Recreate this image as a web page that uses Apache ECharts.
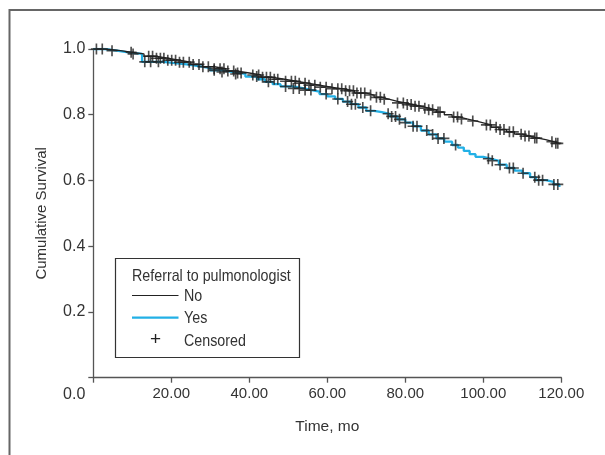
<!DOCTYPE html>
<html>
<head>
<meta charset="utf-8">
<script src="https://cdn.jsdelivr.net/npm/echarts@6/dist/echarts.min.js"></script>
<style>
html,body{margin:0;padding:0;background:#fff;}
#main{width:605px;height:455px;}
</style>
</head>
<body>
<div id="main"></div>
<script>
// Kaplan-Meier step data: [time (mo), cumulative survival]
var noCurve = [[0,1.0],[3,0.995],[7,0.99],[10,0.985],[13,0.978],[16,0.972],[19,0.966],[22,0.96],[25,0.953],[28,0.946],[31,0.94],[34,0.933],[37,0.927],[40,0.921],[43,0.914],[46,0.908],[49,0.902],[52,0.896],[55,0.89],[58,0.884],[61,0.879],[64,0.873],[67,0.866],[70,0.86],[72,0.853],[74,0.847],[76,0.841],[78,0.836],[80,0.831],[82,0.826],[84,0.82],[86,0.815],[88,0.808],[90,0.8],[92,0.793],[94,0.787],[96,0.781],[98,0.775],[100,0.769],[102,0.762],[104,0.755],[106,0.748],[108,0.741],[110,0.735],[112,0.729],[114,0.724],[116,0.718],[118,0.713],[119.5,0.71]];
var yesCurve = [[0,1.0],[3,0.995],[6,0.99],[9,0.985],[12.5,0.961],[18,0.957],[21,0.953],[24,0.948],[27,0.942],[30,0.935],[33,0.93],[36,0.924],[39,0.916],[42,0.908],[44,0.9],[46,0.893],[48,0.886],[51,0.88],[54,0.875],[56,0.87],[58,0.863],[60,0.856],[62,0.848],[64,0.84],[66,0.832],[68,0.822],[70,0.812],[72,0.808],[74,0.803],[76,0.795],[78,0.786],[80,0.776],[82,0.765],[84,0.752],[86,0.74],[88,0.728],[90,0.718],[92,0.708],[93.5,0.7],[95,0.69],[96.5,0.68],[98,0.672],[100,0.666],[102,0.66],[104,0.648],[106,0.638],[108,0.63],[110,0.622],[112,0.61],[113.5,0.601],[116,0.596],[118,0.588],[119.5,0.58]];
// censoring times (mo)
var noCensored = [0.8,2.3,4.8,9.7,10.2,14.2,15.2,16.2,17.2,18.1,19.1,20.1,21.1,22.1,23.1,24.6,25.6,27.1,28.1,29.5,31.0,32.5,33.5,34.5,36.0,37.0,37.9,40.9,42.4,43.4,44.4,45.4,46.4,47.3,49.3,50.8,51.8,52.8,54.3,55.3,56.8,58.2,59.7,61.2,62.7,63.7,64.7,65.7,66.7,67.6,68.6,69.6,71.1,72.6,73.6,74.6,78.0,79.5,80.5,81.5,82.5,83.5,85.0,86.0,87.0,88.4,88.9,92.4,93.4,94.4,97.3,100.8,101.8,103.3,104.3,105.3,106.7,107.7,109.7,110.7,111.7,113.2,113.7,117.6,118.6,119.1];
var yesCensored = [13.2,14.7,16.7,31.0,33.0,36.5,41.9,44.9,49.3,51.3,52.8,54.3,55.8,59.7,62.7,65.2,66.2,67.2,69.1,71.1,75.6,76.5,77.5,78.5,80.0,82.0,83.0,85.5,87.0,88.4,89.9,92.9,101.3,102.3,104.3,106.7,107.7,110.2,113.2,114.2,115.2,118.1,119.1];
var xTicks = [0,20,40,60,80,100,120];
var yTicks = [0,0.2,0.4,0.6,0.8,1.0];

function survAt(curve, t){
  var s = curve[0][1];
  for (var i=0;i<curve.length;i++){ if (curve[i][0] <= t) s = curve[i][1]; }
  return s;
}
var noMarks = noCensored.map(function(t){return [t, survAt(noCurve,t)];});
var yesMarks = yesCensored.map(function(t){return [t, survAt(yesCurve,t)];});

var FONT = "'Liberation Sans',Arial,sans-serif";
var FS = 15;
var TXT = '#333';
var AX = '#555';
var plus = 'path://M4.25,0H5.75V10H4.25Z M0,4.25H10V5.75H0Z';

var chart = echarts.init(document.getElementById('main'), null, {renderer:'canvas'});
var option = {
  animation:false,
  backgroundColor:'#fff',
  grid:{left:93.3, right:43.7, top:49, bottom:77.3},
  xAxis:{
    type:'value', min:0, max:120, interval:20,
    name:'Time, mo', nameLocation:'middle', nameGap:41,
    nameTextStyle:{fontFamily:FONT, fontSize:FS+0.5, color:TXT},
    axisLine:{show:true, lineStyle:{color:AX, width:1.3}},
    axisTick:{show:true, length:5, lineStyle:{color:AX, width:1.3}},
    axisLabel:{margin:9, fontFamily:FONT, fontSize:FS, color:TXT,
      formatter:function(v){ return v===0 ? '' : v.toFixed(2); }},
    splitLine:{show:false}
  },
  yAxis:{
    type:'value', min:0, max:1, interval:0.2,
    name:'Cumulative Survival', nameLocation:'middle', nameGap:44,
    nameTextStyle:{fontFamily:FONT, fontSize:FS, color:TXT},
    axisLine:{show:true, lineStyle:{color:AX, width:1.3}},
    axisTick:{show:true, length:5, lineStyle:{color:AX, width:1.3}},
    axisLabel:{margin:8, fontFamily:FONT, fontSize:FS+1, color:TXT,
      formatter:function(v){ return v===0 ? '' : v.toFixed(1); }},
    splitLine:{show:false}
  },
  series:[
    {name:'Yes', type:'line', step:'end', data:yesCurve, showSymbol:false, symbol:'none',
      lineStyle:{color:'#22b0e6', width:2.3}, z:2},
    {name:'No', type:'line', step:'end', data:noCurve, showSymbol:false, symbol:'none',
      lineStyle:{color:'#222', width:1.3}, z:3},
    {name:'Censored Yes', type:'scatter', data:yesMarks, symbol:plus, symbolSize:11,
      itemStyle:{color:'#222'}, z:4},
    {name:'Censored No', type:'scatter', data:noMarks, symbol:plus, symbolSize:11,
      itemStyle:{color:'#222'}, z:4}
  ]
};
chart.setOption(option);

var o = chart.convertToPixel({gridIndex:0}, [0,0]);
var legendX = 115.5, legendY = 258.5;
var SX = 0.84;
chart.setOption({
  graphic:[
    {type:'polyline', shape:{points:[[9.5,455],[9.5,10],[605,10]]}, style:{stroke:'#666', lineWidth:2, fill:null}, silent:true},
    {type:'text', x:o[0]-8, y:o[1]+17, style:{text:'0.0', fontFamily:FONT, fontSize:FS+1, fill:TXT, align:'right', verticalAlign:'middle'}},
    {type:'rect', shape:{x:legendX, y:legendY, width:184, height:99}, style:{stroke:'#333', lineWidth:1.2, fill:'#fff'}, z:10},
    {type:'text', x:132, y:276.5, scaleX:SX, z:11, style:{text:'Referral to pulmonologist', fontFamily:FONT, fontSize:17, fill:TXT, verticalAlign:'middle'}},
    {type:'line', shape:{x1:132, y1:295.5, x2:178.5, y2:295.5}, style:{stroke:'#222', lineWidth:1.2}, z:11},
    {type:'text', x:184, y:296, scaleX:SX, z:11, style:{text:'No', fontFamily:FONT, fontSize:17, fill:TXT, verticalAlign:'middle'}},
    {type:'line', shape:{x1:132, y1:317.7, x2:178.5, y2:317.7}, style:{stroke:'#22b0e6', lineWidth:2.3}, z:11},
    {type:'text', x:184, y:318.5, scaleX:SX, z:11, style:{text:'Yes', fontFamily:FONT, fontSize:17, fill:TXT, verticalAlign:'middle'}},
    {type:'text', x:155.5, y:340, z:11, style:{text:'+', fontFamily:FONT, fontSize:19, fill:'#222', align:'center', verticalAlign:'middle'}},
    {type:'text', x:184, y:341, scaleX:SX, z:11, style:{text:'Censored', fontFamily:FONT, fontSize:17, fill:TXT, verticalAlign:'middle'}}
  ]
});
</script>
</body>
</html>
